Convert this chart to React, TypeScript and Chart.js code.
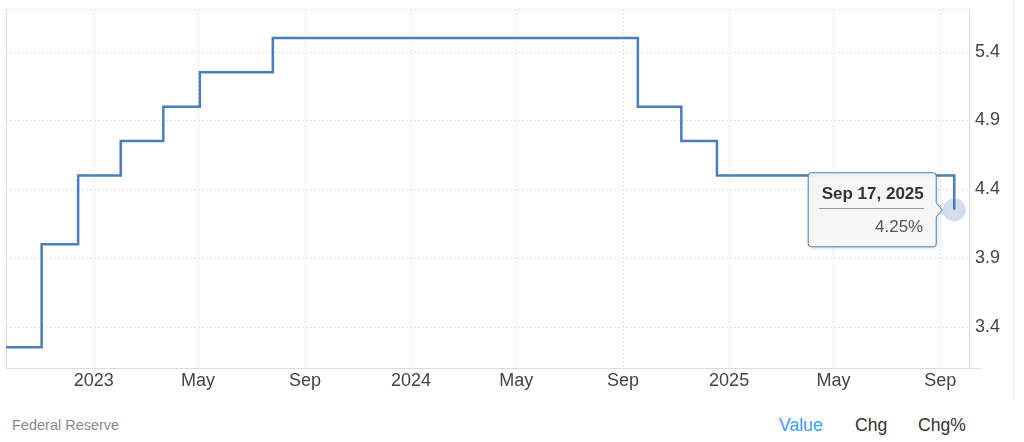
import React, { useEffect, useRef } from "react";
import { Chart, registerables } from "chart.js";

Chart.register(...registerables);

// ---- data ----
const changeDates = [
  "2022-09-22", "2022-11-02", "2022-12-14", "2023-02-01", "2023-03-22", "2023-05-03",
  "2023-07-26", "2024-09-18", "2024-11-07", "2024-12-18", "2025-09-17",
];
const rateValues = [3.25, 4.0, 4.5, 4.75, 5.0, 5.25, 5.5, 5.0, 4.75, 4.5, 4.25];
const xTickDates = [
  "2023-01-01", "2023-05-01", "2023-09-01", "2024-01-01", "2024-05-01",
  "2024-09-01", "2025-01-01", "2025-05-01", "2025-09-01",
];
const yTickValues = [3.4, 3.9, 4.4, 4.9, 5.4];
const xRange = ["2022-09-22", "2025-10-04"];
const yRange = [3.1, 5.71];
const tooltipTitle = "Sep 17, 2025";
const tooltipValue = "4.25%";
const sourceLabel = "Federal Reserve";
const footerTabs = ["Value", "Chg", "Chg%"];

const MONTHS = ["Jan", "Feb", "Mar", "Apr", "May", "Jun", "Jul", "Aug", "Sep", "Oct", "Nov", "Dec"];
const toTs = (s: string) => {
  const [y, m, d] = s.split("-").map(Number);
  return Date.UTC(y, m - 1, d);
};

const LINE = "#4a7ebb";
const FONT = "'Liberation Sans', Arial, Helvetica, sans-serif";

const decorPlugin = {
  id: "decor",
  beforeDatasetsDraw(chart: any) {
    const { ctx, chartArea: a, scales } = chart;
    const xs = scales.x;
    const ys = scales.y;
    ctx.save();
    ctx.strokeStyle = "#e3e3e3";
    ctx.lineWidth = 1;
    ctx.setLineDash([2, 2]);
    // horizontal grid
    const hy = [a.top, ...yTickValues.map((v) => ys.getPixelForValue(v))];
    hy.forEach((y) => {
      const yy = Math.round(y) + 0.5;
      ctx.beginPath();
      ctx.moveTo(a.left, yy);
      ctx.lineTo(a.right, yy);
      ctx.stroke();
    });
    // vertical grid
    xTickDates.forEach((d) => {
      const x = Math.round(xs.getPixelForValue(toTs(d))) + 0.5;
      ctx.beginPath();
      ctx.moveTo(x, a.top);
      ctx.lineTo(x, a.bottom);
      ctx.stroke();
    });
    ctx.setLineDash([]);
    ctx.strokeStyle = "#dcdcdc";
    ctx.beginPath();
    ctx.moveTo(a.left + 0.5, a.top);
    ctx.lineTo(a.left + 0.5, a.bottom + 0.5);
    ctx.lineTo(a.right + 12, a.bottom + 0.5);
    ctx.moveTo(a.right + 0.5, a.top);
    ctx.lineTo(a.right + 0.5, a.bottom);
    ctx.stroke();
    ctx.strokeStyle = "#ececec";
    ctx.beginPath();
    ctx.moveTo(1013.5, 0);
    ctx.lineTo(1013.5, chart.height);
    ctx.stroke();
    // highlight circle at last point
    const meta = chart.getDatasetMeta(0);
    const pt = meta.data[meta.data.length - 1];
    ctx.fillStyle = "rgba(74,126,187,0.25)";
    ctx.beginPath();
    ctx.arc(pt.x, pt.y, 11.5, 0, Math.PI * 2);
    ctx.fill();
    ctx.restore();
  },
  afterDraw(chart: any) {
    const { ctx } = chart;
    const meta = chart.getDatasetMeta(0);
    const pt = meta.data[meta.data.length - 1];
    const px = pt.x;
    const py = pt.y;
    const right = px - 18;
    const left = right - 128;
    const top = py - 37;
    const bottom = py + 37;
    const r = 3;
    const tipX = px - 12;
    ctx.save();
    ctx.beginPath();
    ctx.moveTo(left + r, top);
    ctx.lineTo(right - r, top);
    ctx.quadraticCurveTo(right, top, right, top + r);
    ctx.lineTo(right, py - 7);
    ctx.lineTo(tipX, py);
    ctx.lineTo(right, py + 7);
    ctx.lineTo(right, bottom - r);
    ctx.quadraticCurveTo(right, bottom, right - r, bottom);
    ctx.lineTo(left + r, bottom);
    ctx.quadraticCurveTo(left, bottom, left, bottom - r);
    ctx.lineTo(left, top + r);
    ctx.quadraticCurveTo(left, top, left + r, top);
    ctx.closePath();
    ctx.shadowColor = "rgba(0,0,0,0.18)";
    ctx.shadowBlur = 4;
    ctx.shadowOffsetX = 1;
    ctx.shadowOffsetY = 1;
    ctx.fillStyle = "rgba(247,247,247,0.96)";
    ctx.fill();
    ctx.shadowColor = "transparent";
    ctx.strokeStyle = LINE;
    ctx.lineWidth = 1;
    ctx.stroke();
    // title
    ctx.fillStyle = "#333";
    ctx.font = `bold 17px ${FONT}`;
    ctx.textAlign = "center";
    ctx.textBaseline = "middle";
    ctx.fillText(tooltipTitle, (left + right) / 2 + 0.5, py - 16);
    // separator
    ctx.strokeStyle = "#9a9a9a";
    ctx.beginPath();
    ctx.moveTo(left + 11, Math.round(py - 2) + 0.5);
    ctx.lineTo(right - 12, Math.round(py - 2) + 0.5);
    ctx.stroke();
    // value
    ctx.fillStyle = "#555";
    ctx.font = `17px ${FONT}`;
    ctx.textAlign = "right";
    ctx.fillText(tooltipValue, right - 13, py + 17);
    ctx.restore();
  },
};

export default function App() {
  const ref = useRef<HTMLCanvasElement>(null);
  useEffect(() => {
    const canvas = ref.current;
    if (!canvas) return;
    const chart = new Chart(canvas, {
      type: "line",
      data: {
        datasets: [
          {
            data: changeDates.map((d, i) => ({ x: toTs(d), y: rateValues[i] })),
            borderColor: LINE,
            borderWidth: 2.5,
            pointRadius: 0,
            pointHoverRadius: 0,
            stepped: "before",
            fill: false,
          },
        ],
      },
      options: {
        animation: false,
        responsive: false,
        maintainAspectRatio: false,
        events: [],
        layout: { padding: { left: 6, top: 9, right: 0, bottom: 0 } },
        plugins: { legend: { display: false }, tooltip: { enabled: false } },
        scales: {
          x: {
            type: "linear",
            min: toTs(xRange[0]),
            max: toTs(xRange[1]),
            grid: { display: false, drawTicks: false },
            border: { display: false },
            afterBuildTicks: (s: any) => {
              s.ticks = xTickDates.map((d) => ({ value: toTs(d) }));
            },
            afterFit: (s: any) => {
              s.height = 32;
              s.paddingLeft = 0;
              s.paddingRight = 0;
            },
            ticks: {
              autoSkip: false,
              maxRotation: 0,
              padding: 2,
              color: "#444",
              font: { family: FONT, size: 18 },
              callback: (v: any) => {
                const d = new Date(v);
                return d.getUTCMonth() === 0 ? String(d.getUTCFullYear()) : MONTHS[d.getUTCMonth()];
              },
            },
          },
          y: {
            type: "linear",
            position: "right",
            min: yRange[0],
            max: yRange[1],
            grid: { display: false, drawTicks: false },
            border: { display: false },
            afterBuildTicks: (s: any) => {
              s.ticks = yTickValues.map((v) => ({ value: v }));
            },
            afterFit: (s: any) => {
              s.width = 55;
              s.paddingTop = 0;
              s.paddingBottom = 0;
            },
            ticks: {
              padding: 6,
              color: "#444",
              font: { family: FONT, size: 18 },
              callback: (v: any) => Number(v).toFixed(1),
            },
          },
        },
      },
      plugins: [decorPlugin],
    } as any);
    return () => chart.destroy();
  }, []);

  return (
    <div
      style={{
        position: "fixed",
        left: 0,
        top: 0,
        width: 1024,
        height: 442,
        background: "#fff",
        fontFamily: FONT,
      }}
    >
      <canvas ref={ref} width={1024} height={400} style={{ position: "absolute", left: 0, top: 0, width: 1024, height: 400 }} />
      <div style={{ position: "absolute", left: 12, top: 415, lineHeight: "20px", fontSize: 14.5, color: "#8a8a8a" }}>
        {sourceLabel}
      </div>
      {footerTabs.map((t, i) => (
        <div
          key={t}
          style={{
            position: "absolute",
            left: [779, 855, 918][i],
            top: 415,
            lineHeight: "20px",
            fontSize: 17.6,
            color: i === 0 ? "#3d9cf5" : "#333",
          }}
        >
          {t}
        </div>
      ))}
    </div>
  );
}
